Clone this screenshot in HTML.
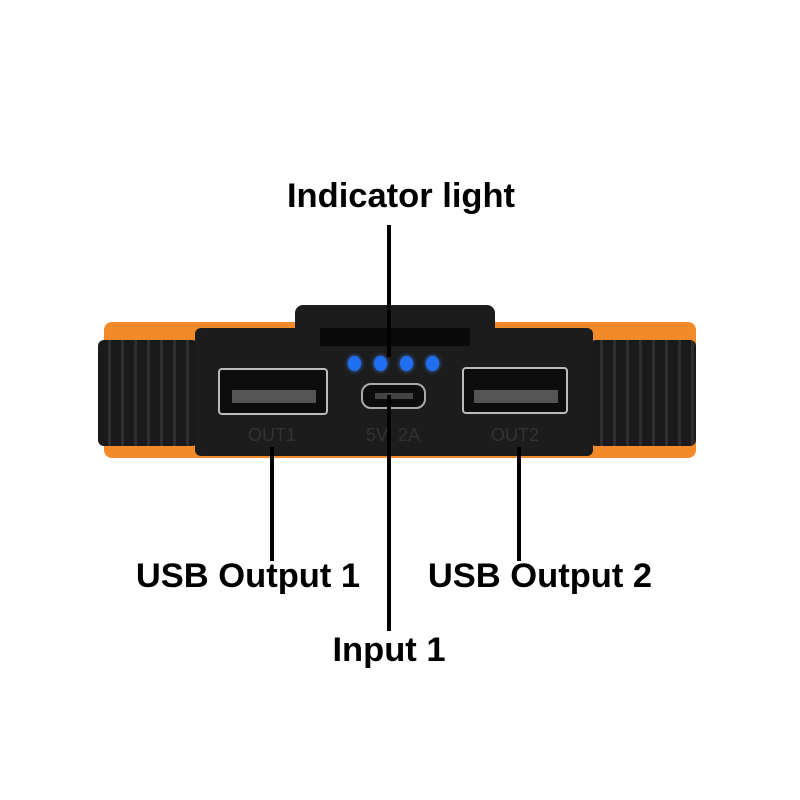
<!DOCTYPE html>
<html><head><style>
body{margin:0;width:800px;height:800px;background:#fff;position:relative;overflow:hidden;font-family:"Liberation Sans",Arial,sans-serif}
div{position:absolute;box-sizing:border-box}
.t{font-weight:bold;font-size:34.5px;color:#000;white-space:nowrap;transform:translateX(-50%)}
.ln{background:#000;width:4px}
.led{width:13px;height:15px;border-radius:50%;background:#1f6ff0;box-shadow:0 0 4px #3b8bff}
.lb{color:#333;font-size:18px;transform:translateX(-50%)}
</style></head><body>
<div style="left:104px;top:322px;width:592px;height:30px;background:#f28a2a;border-radius:8px"></div>
<div style="left:104px;top:432px;width:592px;height:26px;background:#f28a2a;border-radius:8px"></div>
<div style="left:98px;top:340px;width:100px;height:106px;background:repeating-linear-gradient(90deg,#1a1a1a 0 10px,#2f2f2f 10px 13px);border-radius:6px"></div>
<div style="left:590px;top:340px;width:106px;height:106px;background:repeating-linear-gradient(90deg,#1a1a1a 0 10px,#2f2f2f 10px 13px);border-radius:6px"></div>
<div style="left:295px;top:305px;width:200px;height:40px;background:#1c1c1c;border-radius:8px"></div>
<div style="left:195px;top:328px;width:398px;height:128px;background:#1c1c1c;border-radius:6px"></div>
<div style="left:320px;top:328px;width:150px;height:18px;background:#0a0a0a"></div>
<div class="led" style="left:348px;top:356px"></div>
<div class="led" style="left:374px;top:356px"></div>
<div class="led" style="left:400px;top:356px"></div>
<div class="led" style="left:426px;top:356px"></div>
<div style="left:218px;top:368px;width:110px;height:47px;border:2px solid #bbb;border-radius:4px;background:#0c0c0c"></div>
<div style="left:232px;top:390px;width:84px;height:13px;background:#555"></div>
<div style="left:462px;top:367px;width:106px;height:47px;border:2px solid #bbb;border-radius:4px;background:#0c0c0c"></div>
<div style="left:474px;top:390px;width:84px;height:13px;background:#555"></div>
<div style="left:361px;top:383px;width:65px;height:26px;border:2px solid #aaa;border-radius:10px;background:#0c0c0c"></div>
<div style="left:375px;top:393px;width:38px;height:6px;background:#444"></div>
<div class="lb" style="left:272px;top:425px">OUT1</div>
<div class="lb" style="left:393px;top:425px">5V&nbsp;&nbsp;2A</div>
<div class="lb" style="left:515px;top:425px">OUT2</div>
<div class="ln" style="left:387px;top:225px;height:132px"></div>
<div class="ln" style="left:387px;top:395px;height:236px"></div>
<div class="ln" style="left:270px;top:447px;height:114px"></div>
<div class="ln" style="left:517px;top:447px;height:114px"></div>
<div class="t" style="left:401px;top:177px">Indicator light</div>
<div class="t" style="left:248px;top:557px">USB Output 1</div>
<div class="t" style="left:540px;top:557px">USB Output 2</div>
<div class="t" style="left:389px;top:631px">Input 1</div>
</body></html>
